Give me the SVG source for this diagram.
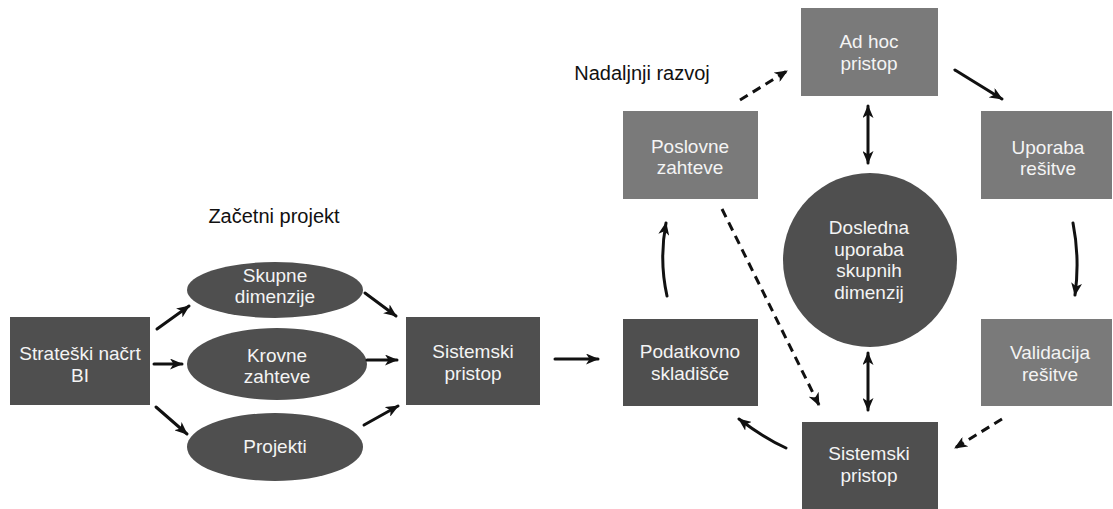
<svg xmlns="http://www.w3.org/2000/svg" width="1113" height="509" viewBox="0 0 1113 509">
<defs>
<style>
.dark{fill:#4f4f4f}
.light{fill:#7a7a7a}
.t{font-family:"Liberation Sans",Arial,sans-serif;font-size:19px;fill:#f4f4f4;text-anchor:middle}
.lbl{font-family:"Liberation Sans",Arial,sans-serif;font-size:20px;fill:#111;text-anchor:middle}
.a{fill:none;stroke:#111;stroke-width:3;stroke-linecap:round}
.d{stroke-dasharray:9 6;stroke-linecap:butt}
</style>
<marker id="ah" viewBox="0 0 13 11" refX="12" refY="5.5" markerWidth="13" markerHeight="11" markerUnits="userSpaceOnUse" orient="auto-start-reverse">
<path d="M0,0 L13,5.5 L0,11 L3.5,5.5 z" fill="#111"/>
</marker>
</defs>
<rect width="1113" height="509" fill="#ffffff"/>

<text class="lbl" x="274" y="223">Začetni projekt</text>
<text class="lbl" x="642" y="80">Nadaljnji razvoj</text>

<g id="strateski"><rect class="dark" x="10" y="317" width="140" height="88"/><text class="t" x="80" y="360">Strateški načrt<tspan x="80" dy="22">BI</tspan></text></g>
<g id="skupne"><ellipse class="dark" cx="275" cy="290" rx="88" ry="28"/><text class="t" x="275" y="282">Skupne<tspan x="275" dy="21">dimenzije</tspan></text></g>
<g id="krovne"><ellipse class="dark" cx="277" cy="364" rx="90" ry="36"/><text class="t" x="277" y="362">Krovne<tspan x="277" dy="21">zahteve</tspan></text></g>
<g id="projekti"><ellipse class="dark" cx="275" cy="447" rx="88" ry="34"/><text class="t" x="275" y="453">Projekti</text></g>
<g id="sistemski1"><rect class="dark" x="406" y="317" width="134" height="88"/><text class="t" x="473" y="358">Sistemski<tspan x="473" dy="22">pristop</tspan></text></g>

<g id="adhoc"><rect class="light" x="801" y="8" width="137" height="88"/><text class="t" x="869" y="48">Ad hoc<tspan x="869" dy="22">pristop</tspan></text></g>
<g id="poslovne"><rect class="light" x="623" y="111" width="135" height="88"/><text class="t" x="690" y="153">Poslovne<tspan x="690" dy="21">zahteve</tspan></text></g>
<g id="uporaba"><rect class="light" x="981" y="111" width="131" height="88"/><text class="t" x="1048" y="154">Uporaba<tspan x="1048" dy="21">rešitve</tspan></text></g>
<g id="dosledna"><circle class="dark" cx="870" cy="260" r="87"/><text class="t" x="869" y="234">Dosledna<tspan x="869" dy="21.7">uporaba</tspan><tspan x="869" dy="21.7">skupnih</tspan><tspan x="869" dy="21.7">dimenzij</tspan></text></g>
<g id="podatkovno"><rect class="dark" x="623" y="319" width="135" height="87"/><text class="t" x="690" y="358">Podatkovno<tspan x="690" dy="22">skladišče</tspan></text></g>
<g id="validacija"><rect class="light" x="981" y="319" width="131" height="87"/><text class="t" x="1050" y="359">Validacija<tspan x="1050" dy="22">rešitve</tspan></text></g>
<g id="sistemski2"><rect class="dark" x="802" y="422" width="136" height="90"/><text class="t" x="869" y="460">Sistemski<tspan x="869" dy="22">pristop</tspan></text></g>

<g id="connectors">
<path class="a" d="M157,329 L189,306" marker-end="url(#ah)"/>
<path class="a" d="M154,364 L182,364" marker-end="url(#ah)"/>
<path class="a" d="M156,407 L187,434" marker-end="url(#ah)"/>
<path class="a" d="M365,293 L396,316" marker-end="url(#ah)"/>
<path class="a" d="M367,360 L397,360" marker-end="url(#ah)"/>
<path class="a" d="M364,425 L398,406" marker-end="url(#ah)"/>
<path class="a" d="M555,359 L598,359" marker-end="url(#ah)"/>
<path class="a d" d="M740,100 L787,71" marker-end="url(#ah)"/>
<path class="a" d="M955,70 L1002,99" marker-end="url(#ah)"/>
<path class="a" d="M868,106 L868,163" marker-start="url(#ah)" marker-end="url(#ah)"/>
<path class="a" d="M1073,223 Q1080,259 1075,295" marker-end="url(#ah)"/>
<path class="a d" d="M1002,419 L955,448" marker-end="url(#ah)"/>
<path class="a" d="M786,448 Q764,438 739,419" marker-end="url(#ah)"/>
<path class="a" d="M667,296 Q659,260 666,223" marker-end="url(#ah)"/>
<path class="a d" d="M722,209 L819,405" marker-end="url(#ah)"/>
<path class="a" d="M868,353 L868,410" marker-start="url(#ah)" marker-end="url(#ah)"/>
</g>
</svg>
